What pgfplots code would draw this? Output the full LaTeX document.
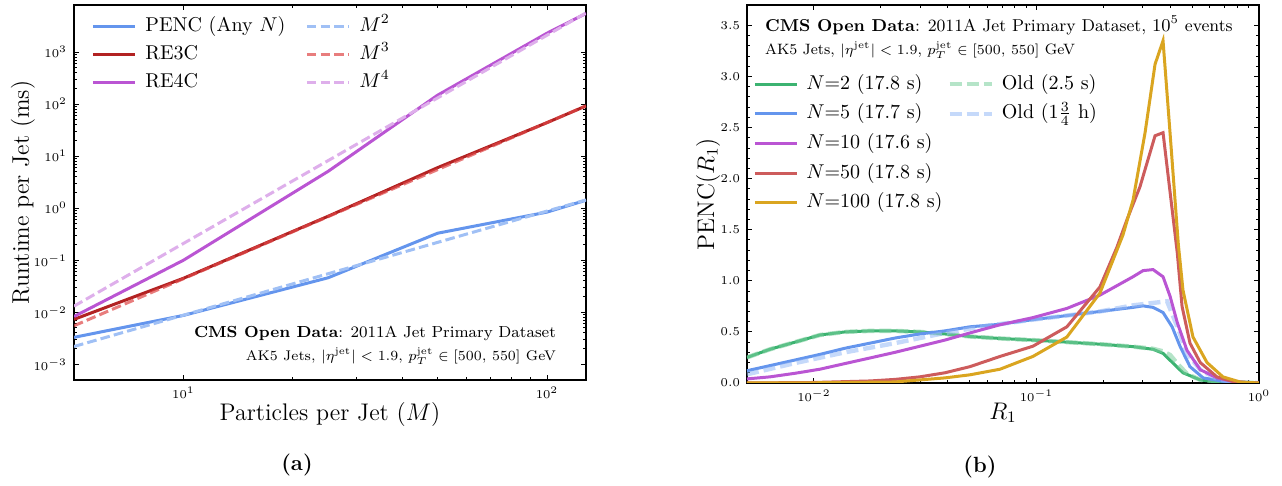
\documentclass[border=0pt]{standalone}
\usepackage{pgfplots}
\pgfplotsset{compat=1.18}
\definecolor{pencblue}{RGB}{100,149,237}
\definecolor{rethree}{RGB}{178,34,34}
\definecolor{refour}{RGB}{186,85,211}
\definecolor{ltblue}{RGB}{160,192,245}
\definecolor{ltred}{RGB}{222,70,70}
\definecolor{ltpurple}{RGB}{222,175,235}
\definecolor{ngreen}{RGB}{60,179,113}
\definecolor{ltgreen}{RGB}{120,205,155}
\definecolor{nred}{RGB}{205,92,92}
\definecolor{norange}{RGB}{218,165,32}
\definecolor{ltblue2}{RGB}{150,185,245}
\pgfplotsset{
  common/.style={
    scale only axis, width=256pt,
    tick align=inside,
    major tick length=2.6pt, minor tick length=1.4pt,
    axis line style={line width=0.6pt},
    every tick/.style={black, line width=0.5pt},
    tick label style={font=\fontsize{6.5}{7}\selectfont},
    label style={font=\fontsize{12}{14}\selectfont},
    legend cell align=left,
    legend image code/.code={\draw[##1] (0pt,0pt) -- (21pt,0pt);},
  }
}
\begin{document}
\begin{tikzpicture}
\path[use as bounding box] (0pt,0pt) rectangle (641pt,243pt);
% ---------------- (a) ----------------
\begin{axis}[common, at={(37pt,53pt)}, anchor=south west, height=187.5pt,
  xmode=log, ymode=log, xmin=5, xmax=128, ymin=5e-4, ymax=8e3,
  xtick={10,100}, ytick={1e-3,1e-2,1e-1,1,10,100,1000},
  xlabel={Particles per Jet ($M$)}, ylabel={Runtime per Jet (ms)},
  xlabel style={at={(axis description cs:0.5,-0.092)}, anchor=center},
  ylabel style={at={(axis description cs:-0.1,0.5)}, anchor=center},
  legend columns=2,
  legend style={draw=none, fill=none, at={(axis description cs:0,1)}, anchor=north west,
    xshift=8.5pt, yshift=-5.4pt, font=\fontsize{10}{12}\selectfont,
    inner sep=0pt, row sep=4pt, column sep=4.5pt,
    nodes={inner sep=0pt, text height=7.5pt, text depth=2.5pt},
    /tikz/every even column/.append style={column sep=10pt}},
]
\addplot[pencblue, line width=1.5pt] coordinates {(5,3.3e-3) (10,8.7e-3) (25,0.046) (50,0.33) (100,0.84) (128,1.42)};
\addlegendentry{PENC (Any $N$)}
\addplot[ltblue, line width=1.5pt, dash pattern=on 4.8pt off 2.1pt] coordinates {(5,2.2e-3) (10,8.8e-3) (25,0.055) (50,0.22) (100,0.88) (128,1.44)};
\addlegendentry{$M^2$}
\addplot[rethree, line width=1.5pt] coordinates {(5,7.3e-3) (10,0.045) (25,0.70) (50,6.0) (100,44) (128,92)};
\addlegendentry{RE3C}
\addplot[ltred, opacity=0.7, line width=1.5pt, dash pattern=on 4.8pt off 2.1pt] coordinates {(5,5.5e-3) (10,0.044) (25,0.6875) (50,5.5) (100,44) (128,92.3)};
\addlegendentry{$M^3$}
\addplot[refour, line width=1.5pt] coordinates {(5,8.3e-3) (10,0.10) (25,5.1) (50,148) (100,2300) (128,5500)};
\addlegendentry{RE4C}
\addplot[ltpurple, line width=1.5pt, dash pattern=on 4.8pt off 2.1pt] coordinates {(5,0.0131) (10,0.21) (25,8.2) (50,131) (100,2100) (128,5637)};
\addlegendentry{$M^4$}
\node[anchor=base east, font=\fontsize{8}{10}\selectfont] at (axis description cs:0.955,0.112) {\textbf{CMS Open Data}: 2011A Jet Primary Dataset};
\node[anchor=base east, font=\fontsize{7}{8}\selectfont] at (axis description cs:0.955,0.0507) {AK5 Jets, $|\eta^{\smash{\mathrm{jet}}}| < 1.9$, $p_T^{\smash{\mathrm{jet}}} \in [500,\,550]$ GeV};
\end{axis}
% ---------------- (b) ----------------
\begin{axis}[common, at={(373.5pt,51.5pt)}, anchor=south west, height=189pt,
  xmode=log, xmin=0.005, xmax=1, ymin=0, ymax=3.7,
  xtick={0.01,0.1,1},
  ytick={0,0.5,1,1.5,2,2.5,3,3.5}, minor y tick num=4,
  yticklabel style={/pgf/number format/.cd, fixed, fixed zerofill, precision=1},
  xlabel={$R_1$}, ylabel={PENC($R_1$)},
  xlabel style={at={(axis description cs:0.5,-0.079)}, anchor=center},
  ylabel style={at={(axis description cs:-0.076,0.5)}, anchor=center},
  legend columns=2,
  legend style={draw=none, fill=none, at={(axis description cs:0,1)}, anchor=north west,
    xshift=3pt, yshift=-34.4pt, font=\fontsize{10}{12}\selectfont,
    inner sep=0pt, row sep=4.85pt, column sep=4pt,
    nodes={inner sep=0pt, text height=7.5pt, text depth=2.5pt},
    /tikz/every even column/.append style={column sep=2.5pt}},
]
\addplot[ngreen, line width=1.5pt] coordinates {(0.005,0.25) (0.00634,0.33) (0.00822,0.40) (0.01064,0.47) (0.01377,0.50) (0.01786,0.51) (0.02312,0.51) (0.02994,0.50) (0.0388,0.48) (0.05025,0.455) (0.07,0.435) (0.0964,0.42) (0.137,0.40) (0.1928,0.38) (0.2716,0.356) (0.3342,0.33) (0.3705,0.29) (0.4107,0.195) (0.4553,0.10) (0.5445,0.03) (0.6472,0.01) (0.7636,0.002) (1,0)};
\addlegendentry{$N{=}2$ (17.8 s)}
\addplot[ltgreen, opacity=0.55, line width=2.2pt, dash pattern=on 6pt off 2.5pt] coordinates {(0.005,0.25) (0.00634,0.33) (0.00822,0.40) (0.01064,0.47) (0.01377,0.50) (0.01786,0.51) (0.02312,0.51) (0.02994,0.50) (0.0388,0.48) (0.05025,0.455) (0.07,0.435) (0.0964,0.42) (0.137,0.40) (0.1928,0.38) (0.2716,0.356) (0.3342,0.335) (0.3705,0.31) (0.3983,0.275) (0.4295,0.19) (0.4745,0.09) (0.5445,0.03) (0.6472,0.008) (1,0)};
\addlegendentry{Old (2.5 s)}
\addplot[pencblue, line width=1.5pt] coordinates {(0.005,0.12) (0.00634,0.17) (0.00822,0.225) (0.01064,0.28) (0.01377,0.34) (0.01786,0.39) (0.02312,0.44) (0.02994,0.48) (0.0388,0.51) (0.05025,0.55) (0.0686,0.575) (0.0964,0.62) (0.137,0.66) (0.1928,0.70) (0.2716,0.74) (0.3013,0.755) (0.3342,0.74) (0.3705,0.69) (0.407,0.55) (0.4416,0.36) (0.4896,0.16) (0.5611,0.05) (0.7178,0.01) (1,0)};
\addlegendentry{$N{=}5$ (17.7 s)}
\addplot[ltblue2, opacity=0.55, line width=2.2pt, dash pattern=on 6pt off 2.5pt] coordinates {(0.005,0.085) (0.00822,0.195) (0.01377,0.30) (0.02312,0.39) (0.0388,0.49) (0.06,0.56) (0.0964,0.62) (0.137,0.66) (0.1928,0.70) (0.2716,0.76) (0.3863,0.80) (0.4295,0.55) (0.4745,0.29) (0.5445,0.13) (0.6472,0.04) (0.7636,0.01) (1,0)};
\addlegendentry{Old ($1\smash{\frac{3}{4}}$ h)}
\addplot[refour, line width=1.5pt] coordinates {(0.005,0.04) (0.00634,0.06) (0.00822,0.095) (0.01064,0.135) (0.01377,0.19) (0.01786,0.245) (0.02312,0.30) (0.02994,0.36) (0.0388,0.42) (0.05025,0.49) (0.0686,0.57) (0.0964,0.64) (0.137,0.73) (0.1928,0.86) (0.2716,1.04) (0.3013,1.10) (0.3342,1.11) (0.3705,1.04) (0.3983,0.85) (0.4295,0.59) (0.4745,0.32) (0.5445,0.13) (0.6472,0.05) (0.7636,0.015) (0.9,0.002) (1,0)};
\addlegendentry{$N{=}10$ (17.6 s)}
\addlegendimage{empty legend}
\addlegendentry{}
\addplot[nred, line width=1.5pt] coordinates {(0.005,0.0) (0.01,0.005) (0.0179,0.02) (0.0231,0.035) (0.0299,0.06) (0.0388,0.10) (0.05025,0.16) (0.0686,0.26) (0.0964,0.36) (0.137,0.55) (0.1928,0.94) (0.23,1.33) (0.2552,1.60) (0.2917,1.92) (0.3411,2.42) (0.3705,2.45) (0.4295,1.27) (0.4511,0.75) (0.4896,0.39) (0.5445,0.20) (0.6472,0.06) (0.7636,0.015) (0.9,0.002) (1,0)};
\addlegendentry{$N{=}50$ (17.8 s)}
\addlegendimage{empty legend}
\addlegendentry{}
\addplot[norange, line width=1.5pt] coordinates {(0.005,0.0) (0.01,0.002) (0.0231,0.01) (0.0299,0.03) (0.0388,0.05) (0.05025,0.08) (0.0686,0.135) (0.0964,0.26) (0.137,0.45) (0.1928,0.88) (0.2448,1.45) (0.2716,1.79) (0.3076,2.45) (0.3411,3.12) (0.3705,3.35) (0.3983,2.45) (0.4339,1.36) (0.4553,0.91) (0.505,0.45) (0.584,0.20) (0.6887,0.06) (0.822,0.01) (1,0)};
\addlegendentry{$N{=}100$ (17.8 s)}
\node[anchor=base west, font=\fontsize{8.6}{10}\selectfont] at (axis description cs:0.0215,0.931) {\textbf{CMS Open Data}: 2011A Jet Primary Dataset, $10^5$ events};
\node[anchor=base west, font=\fontsize{7.5}{8}\selectfont] at (axis description cs:0.0215,0.868) {AK5 Jets, $|\eta^{\smash{\mathrm{jet}}}| < 1.9$, $p_T^{\smash{\mathrm{jet}}} \in [500,\,550]$ GeV};
\end{axis}
\node[font=\bfseries\fontsize{11}{13}\selectfont] at (148.5pt,10.5pt) {(a)};
\node[font=\bfseries\fontsize{11}{13}\selectfont] at (490pt,9.5pt) {(b)};
\end{tikzpicture}
\end{document}
